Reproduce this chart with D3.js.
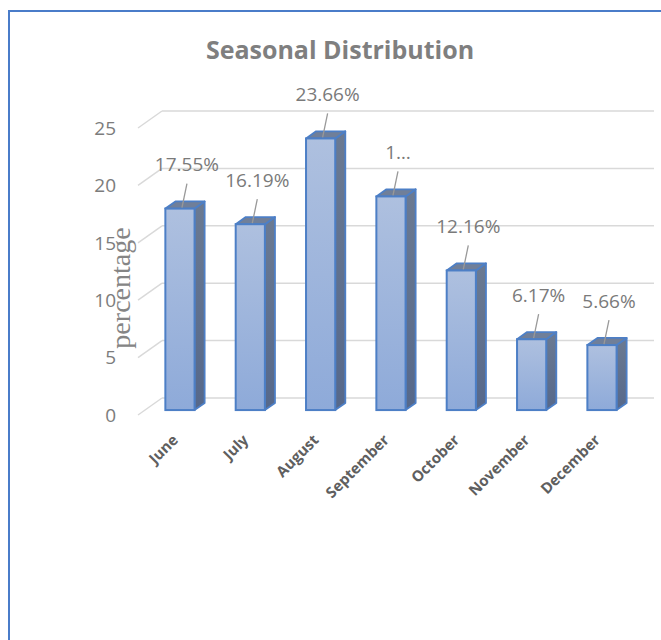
<!DOCTYPE html>
<html>
<head>
<meta charset="utf-8">
<script src="https://cdn.jsdelivr.net/npm/d3@7"></script>
<style>
  html, body { margin: 0; padding: 0; background: #fff; }
  svg { display: block; }
</style>
</head>
<body>
<svg id="chart" width="661" height="640"></svg>
<script>
// Monthly share of the season
const categories = ["June", "July", "August", "September", "October", "November", "December"];
const values = [17.55, 16.19, 23.66, 18.61, 12.16, 6.17, 5.66];
const valueLabels = ["17.55%", "16.19%", "23.66%", "1…", "12.16%", "6.17%", "5.66%"];
const yTicks = [0, 5, 10, 15, 20, 25];
const chartTitle = "Seasonal Distribution";
const yTitle = "percentage";

const svg = d3.select("#chart");

// Outer frame of the chart area
svg.append("rect")
  .attr("x", 9).attr("y", 11)
  .attr("width", 700).attr("height", 700)
  .attr("fill", "#fff")
  .attr("stroke", "#4a7cc9")
  .attr("stroke-width", 2);

// Oblique projection: back wall and a depth offset toward the viewer
const wallLeft = 162, wallRight = 654;
const depthX = 24, depthY = 17;           // full depth of the floor
const y = d3.scaleLinear().domain([0, 25]).range([398, 111]);

// Bars sit inside the floor depth: front face at 0.71, back face at 0.29
const barFront = 0.71, barBack = 0.29;
const fx = -depthX * barFront, fy = depthY * barFront;
const bdx = depthX * (barFront - barBack), bdy = -depthY * (barFront - barBack);

const x = d3.scaleBand()
  .domain(categories)
  .range([wallLeft + fx, wallRight + fx])
  .paddingInner(0.585)
  .paddingOuter(0.29);

// Gridlines: back wall segment plus the slanted side-wall stub
const grid = svg.append("g").attr("stroke", "#d9d9d9").attr("stroke-width", 1.5).attr("fill", "none");
yTicks.forEach(t => {
  grid.append("line")
    .attr("x1", wallLeft).attr("y1", y(t))
    .attr("x2", wallRight).attr("y2", y(t));
  grid.append("line")
    .attr("x1", wallLeft - depthX).attr("y1", y(t) + depthY)
    .attr("x2", wallLeft).attr("y2", y(t));
});

// Tick labels
svg.append("g")
  .selectAll("text")
  .data(yTicks)
  .join("text")
  .attr("x", 116)
  .attr("y", d => y(d) + depthY)
  .attr("dy", "0.36em")
  .attr("text-anchor", "end")
  .attr("font-family", "'Open Sans', sans-serif")
  .attr("font-size", 19)
  .attr("fill", "#7c7c7c")
  .text(d => d);

// Gradients for the bar faces
const defs = svg.append("defs");
const gFront = defs.append("linearGradient").attr("id", "gFront").attr("x1", 0).attr("y1", 0).attr("x2", 0).attr("y2", 1);
gFront.append("stop").attr("offset", "0%").attr("stop-color", "#aec0df");
gFront.append("stop").attr("offset", "100%").attr("stop-color", "#8eaad9");
const gSide = defs.append("linearGradient").attr("id", "gSide").attr("x1", 0).attr("y1", 0).attr("x2", 0).attr("y2", 1);
gSide.append("stop").attr("offset", "0%").attr("stop-color", "#6b7a92");
gSide.append("stop").attr("offset", "100%").attr("stop-color", "#56688a");

const bars = svg.append("g")
  .selectAll("g")
  .data(categories.map((c, i) => ({ c, v: values[i], label: valueLabels[i] })))
  .join("g");

const stroke = "#4d7fc6";

// Side face
bars.append("path")
  .attr("d", d => {
    const x0 = x(d.c) + x.bandwidth(), yt = y(d.v) + fy, yb = y(0) + fy;
    return `M${x0},${yt}L${x0 + bdx},${yt + bdy}L${x0 + bdx},${yb + bdy}L${x0},${yb}Z`;
  })
  .attr("fill", "url(#gSide)")
  .attr("stroke", stroke).attr("stroke-width", 1.8).attr("stroke-linejoin", "round");

// Top face
bars.append("path")
  .attr("d", d => {
    const x0 = x(d.c), w = x.bandwidth(), yt = y(d.v) + fy;
    return `M${x0},${yt}L${x0 + bdx},${yt + bdy}L${x0 + w + bdx},${yt + bdy}L${x0 + w},${yt}Z`;
  })
  .attr("fill", "#707f99")
  .attr("stroke", stroke).attr("stroke-width", 1.8).attr("stroke-linejoin", "round");

// Front face
bars.append("rect")
  .attr("x", d => x(d.c))
  .attr("y", d => y(d.v) + fy)
  .attr("width", x.bandwidth())
  .attr("height", d => y(0) - y(d.v))
  .attr("fill", "url(#gFront)")
  .attr("stroke", stroke).attr("stroke-width", 2);

// Data labels with leader lines
const cx = d => x(d.c) + x.bandwidth() / 2;
bars.append("line")
  .attr("x1", d => cx(d) + 7).attr("y1", d => y(d.v) + fy - 25)
  .attr("x2", d => cx(d) + 2).attr("y2", d => y(d.v) + fy - 1)
  .attr("stroke", "#999").attr("stroke-width", 1.3);

bars.append("text")
  .attr("x", d => cx(d) + 7)
  .attr("y", d => y(d.v) + fy - 44)
  .attr("dy", "0.36em")
  .attr("text-anchor", "middle")
  .attr("font-family", "'Open Sans', sans-serif")
  .attr("font-size", 19)
  .attr("fill", "#7a7a7a")
  .text(d => d.label);

// Category labels, rotated
svg.append("g")
  .selectAll("text")
  .data(categories)
  .join("text")
  .attr("transform", c => `translate(${x(c) + x.bandwidth() / 2 - 1},${441}) rotate(-45)`)
  .attr("text-anchor", "end")
  .attr("font-family", "'Open Sans', sans-serif")
  .attr("font-weight", "bold")
  .attr("font-size", 15)
  .attr("fill", "#5f5f5f")
  .text(c => c);

// Axis title
svg.append("text")
  .attr("transform", "translate(130,288) rotate(-90)")
  .attr("text-anchor", "middle")
  .attr("font-family", "'Liberation Serif', 'Times New Roman', serif")
  .attr("font-size", 28)
  .attr("fill", "#858585")
  .text(yTitle);

// Chart title
svg.append("text")
  .attr("x", 340)
  .attr("y", 59)
  .attr("text-anchor", "middle")
  .attr("font-family", "'Open Sans', sans-serif")
  .attr("font-weight", "bold")
  .attr("font-size", 25)
  .attr("fill", "#7f7f7f")
  .text(chartTitle);
</script>
</body>
</html>
